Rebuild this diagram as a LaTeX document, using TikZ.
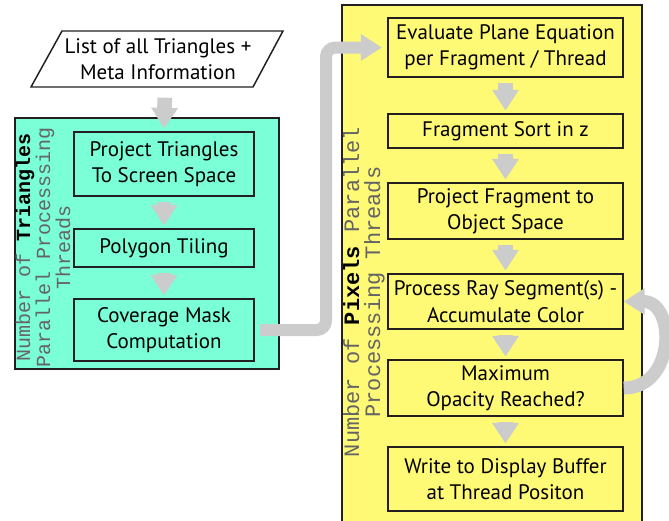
\documentclass[tikz,border=0pt]{standalone}
\usepackage{fontspec}
\setmainfont{PT Sans}
\setmonofont{Liberation Mono}
\usetikzlibrary{arrows.meta}
\definecolor{tealfill}{RGB}{122,255,214}
\definecolor{yellowfill}{RGB}{255,250,118}
\definecolor{arrowgray}{RGB}{204,204,204}
\definecolor{labelgray}{RGB}{100,100,100}
\definecolor{edgeblack}{RGB}{35,31,32}

\begin{document}
\begin{tikzpicture}[x=0.75pt,y=-0.75pt,
   proc/.style={draw=edgeblack,line width=1.1pt,minimum width=135pt,align=center,inner sep=0pt,
      font=\fontsize{15.75}{19.75}\selectfont},
   flow/.style={draw=arrowgray,line width=11pt,-{Triangle[width=19pt,length=15.5pt]},
      shorten <=4pt,shorten >=2pt},
   bigflow/.style={draw=arrowgray,line width=9pt,rounded corners=7pt,
      -{Triangle[width=19pt,length=15.75pt]},shorten <=4pt,shorten >=4pt},
   threadlabel/.style={rotate=90,align=center,text=labelgray}]
   \useasboundingbox (0,0) rectangle (669,521);

   % the two groups of threads
   \node[draw=edgeblack,line width=1.5pt,fill=tealfill,minimum width=198pt,minimum height=188.25pt]
      (tribox) at (147,243.5) {};
   \node[draw=edgeblack,line width=1.5pt,fill=yellowfill,minimum width=225pt,minimum height=416.25pt]
      (pixbox) at (492,282.5) {};

   \node[threadlabel,font=\fontsize{15}{11}\selectfont\ttfamily] (trilabel) at (43,247)
      {Number of \textbf{\color{black}Triangles}\\Parallel Processsing\\Threads};
   \node[threadlabel,font=\fontsize{16.5}{15.75}\selectfont\ttfamily] (pixlabel) at (364,292)
      {Number of \textbf{\color{black}Pixels} Parallel\\Processsing Threads};

   % input
   \draw[edgeblack,line width=1.1pt,fill=white] (62,31) -- (283,31) -- (253,87) -- (31,87) -- cycle;
   \node[align=center,inner sep=0pt,font=\fontsize{15.75}{19.75}\selectfont] (list) at (158,59)
      {List of all Triangles +\\Meta Information};
   \coordinate (listfoot) at (165,87);

   % triangle stage
   \node[proc,minimum height=48pt] (proj) at (164,164) {Project Triangles\\To Screen Space};
   \node[proc,minimum height=28.5pt] (tiling) at (164,248) {Polygon Tiling};
   \node[proc,minimum height=46.5pt] (cov) at (164,330) {Coverage Mask\\Computation};

   % pixel stage
   \node[proc,minimum width=176.25pt,minimum height=44.25pt] (eval) at (505.5,47.5)
      {Evaluate Plane Equation\\per Fragment / Thread};
   \node[proc,minimum width=176.25pt,minimum height=25.5pt] (sort) at (505.5,131) {Fragment Sort in z};
   \node[proc,minimum width=176.25pt,minimum height=42pt] (objsp) at (505.5,211)
      {Project Fragment to\\Object Space};
   \node[proc,minimum width=176.25pt,minimum height=41.25pt] (ray) at (505.5,301.5)
      {Process Ray Segment(s) -\\Accumulate Color};
   \node[proc,minimum width=176.25pt,minimum height=42pt] (opac) at (505.5,388)
      {Maximum\\Opacity Reached?};
   \node[proc,minimum width=176.25pt,minimum height=48pt] (write) at (505.5,479)
      {Write to Display Buffer\\at Thread Positon};

   \coordinate (bend) at (326,0);

   \draw[flow,shorten <=8pt] (listfoot) -- (proj.north);
   \draw[flow] (proj) -- (tiling);
   \draw[flow] (tiling) -- (cov);
   \draw[bigflow] (cov.east) -| (bend |- eval.west) -- (eval.west);
   \draw[flow] (eval) -- (sort);
   \draw[flow] (sort) -- (objsp);
   \draw[flow] (objsp) -- (ray);
   \draw[flow] (ray) -- (opac);
   \draw[flow] (opac) -- (write);
   \draw[bigflow,line width=9.75pt,shorten <=0pt,shorten >=0pt] (opac.east) .. controls (676,388) and (676,301.5) .. (ray.east);
\end{tikzpicture}
\end{document}
